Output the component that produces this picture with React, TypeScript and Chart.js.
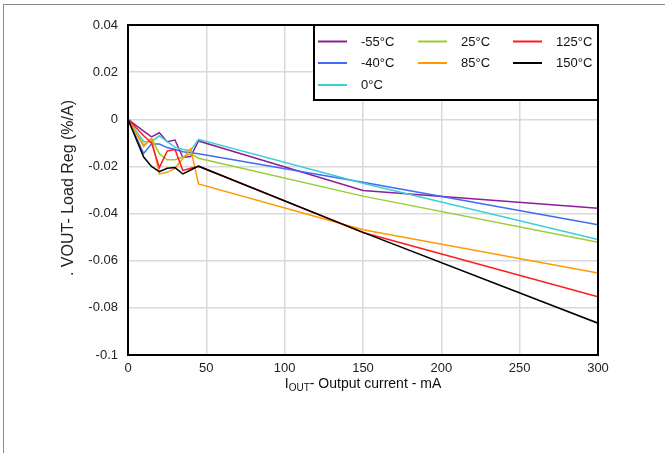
import React, { useEffect, useRef } from "react";
import { Chart, registerables } from "chart.js";

Chart.register(...registerables);

const currentMA = [0, 10, 15, 20, 25, 30, 35, 40, 45, 150, 300];
const regM55 = [0, -0.005, -0.0075, -0.0057, -0.0095, -0.0088, -0.0162, -0.0158, -0.0092, -0.0302, -0.0377];
const regM40 = [0, -0.0145, -0.0105, -0.0105, -0.012, -0.0128, -0.0138, -0.0142, -0.0146, -0.0267, -0.0448];
const reg0 = [0, -0.0095, -0.0095, -0.007, -0.0095, -0.0118, -0.0128, -0.0133, -0.0085, -0.0271, -0.051];
const reg25 = [0, -0.011, -0.008, -0.0146, -0.0172, -0.0172, -0.016, -0.0146, -0.0165, -0.0326, -0.0522];
const reg85 = [0, -0.0115, -0.008, -0.0232, -0.0225, -0.0208, -0.0167, -0.0125, -0.0274, -0.0469, -0.0652];
const reg125 = [0, -0.007, -0.01, -0.0205, -0.0135, -0.0128, -0.0217, -0.0208, -0.0199, -0.048, -0.0753];
const reg150 = [0, -0.016, -0.02, -0.0222, -0.0208, -0.0205, -0.0232, -0.0215, -0.0199, -0.048, -0.0865];

const xTicks = [0, 50, 100, 150, 200, 250, 300];
const yTicks = [-0.1, -0.08, -0.06, -0.04, -0.02, 0, 0.02, 0.04];
const yTickLabels = ["-0.1", "-0.08", "-0.06", "-0.04", "-0.02", "0", "0.02", "0.04"];

const seriesNames = ["-55°C", "-40°C", "0°C", "25°C", "85°C", "125°C", "150°C"];
const seriesData = [regM55, regM40, reg0, reg25, reg85, reg125, reg150];
const seriesColors = ["#8E1E96", "#3D6BF5", "#3CCFD3", "#9ACD32", "#FF9A00", "#FF1A1A", "#000000"];
// legend layout: row-major order of indices
const legendOrder = [0, 3, 5, 1, 4, 6, 2];

const FONT = "Arial, 'Liberation Sans', sans-serif";

export default function App() {
  const canvasRef = useRef<HTMLCanvasElement | null>(null);

  useEffect(() => {
    const canvas = canvasRef.current;
    if (!canvas) return;
    Chart.defaults.font.family = FONT;

    const overlay = {
      id: "overlay",
      afterDraw(chart: any) {
        const ctx = chart.ctx as CanvasRenderingContext2D;
        const { left, top, right, bottom } = chart.chartArea;
        ctx.save();
        // frame
        ctx.strokeStyle = "#000";
        ctx.lineWidth = 2;
        ctx.strokeRect(left, top, right - left, bottom - top);

        // legend
        const lx = 314;
        const lw = right - lx;
        const lh = 75;
        ctx.fillStyle = "#fff";
        ctx.fillRect(lx, top, lw, lh);
        ctx.strokeRect(lx, top, lw, lh);
        const colX = [lx + 4, lx + 104, lx + 199];
        const rowY = [top + 16.5, top + 38, top + 60];
        ctx.font = `13px ${FONT}`;
        ctx.textBaseline = "middle";
        ctx.textAlign = "left";
        legendOrder.forEach((si, k) => {
          const c = k % 3;
          const r = Math.floor(k / 3);
          const x = colX[c];
          const y = rowY[r];
          ctx.strokeStyle = seriesColors[si];
          ctx.lineWidth = 2;
          ctx.beginPath();
          ctx.moveTo(x, y);
          ctx.lineTo(x + 29, y);
          ctx.stroke();
          ctx.fillStyle = "#111";
          ctx.fillText(seriesNames[si], x + 43, y + 0.5);
        });

        // x title with subscript
        const cx = (left + right) / 2;
        const base = 388;
        const mainFont = `14px ${FONT}`;
        const subFont = `10px ${FONT}`;
        ctx.font = mainFont;
        const wI = ctx.measureText("I").width;
        const rest = "- Output current - mA";
        const wRest = ctx.measureText(rest).width;
        ctx.font = subFont;
        const wSub = ctx.measureText("OUT").width;
        const total = wI + wSub + wRest;
        let x0 = cx - total / 2;
        ctx.fillStyle = "#111";
        ctx.textBaseline = "alphabetic";
        ctx.font = mainFont;
        ctx.fillText("I", x0, base);
        x0 += wI;
        ctx.font = subFont;
        ctx.fillText("OUT", x0, base + 3);
        x0 += wSub;
        ctx.font = mainFont;
        ctx.fillText(rest, x0, base);

        // y title
        ctx.translate(69, 188);
        ctx.rotate(-Math.PI / 2);
        ctx.font = `16px ${FONT}`;
        ctx.textAlign = "center";
        ctx.textBaseline = "middle";
        ctx.fillStyle = "#222";
        ctx.fillText(". VOUT- Load Reg (%/A)", 0, 0);
        ctx.restore();
      },
    };

    const chart = new Chart(canvas, {
      type: "line",
      data: {
        datasets: seriesData.map((ys, i) => ({
          label: seriesNames[i],
          data: ys.map((y, j) => ({ x: currentMA[j], y })),
          borderColor: seriesColors[i],
          backgroundColor: seriesColors[i],
          borderWidth: 1.5,
          pointRadius: 0,
          tension: 0,
          fill: false,
          order: i === 6 ? -1 : 7 - i,
        })),
      },
      options: {
        responsive: false,
        animation: false,
        events: [],
        layout: { padding: { left: 0, right: 67, top: 25, bottom: 73 } },
        plugins: {
          legend: { display: false },
          tooltip: { enabled: false },
          title: { display: false },
        },
        scales: {
          x: {
            type: "linear",
            min: 0,
            max: 300,
            afterFit: (s: any) => {
              s.height = 25;
            },
            afterBuildTicks: (s: any) => {
              s.ticks = xTicks.map((v) => ({ value: v }));
            },
            ticks: {
              color: "#222",
              font: { size: 13, family: FONT },
              padding: 6,
              maxRotation: 0,
              callback: (v: any) => String(v),
            },
            grid: { color: "#d9d9d9", lineWidth: 1.5, drawTicks: false },
            border: { display: false },
          },
          y: {
            type: "linear",
            min: -0.1,
            max: 0.04,
            afterFit: (s: any) => {
              s.width = 128;
            },
            afterBuildTicks: (s: any) => {
              s.ticks = yTicks.map((v) => ({ value: v }));
            },
            ticks: {
              color: "#222",
              font: { size: 13, family: FONT },
              padding: 10,
              callback: (v: any) => {
                const idx = yTicks.findIndex((t) => Math.abs(t - v) < 1e-9);
                return idx >= 0 ? yTickLabels[idx] : "";
              },
            },
            grid: { color: "#d9d9d9", lineWidth: 1.5, drawTicks: false },
            border: { display: false },
          },
        },
      },
      plugins: [overlay],
    } as any);

    return () => chart.destroy();
  }, []);

  return (
    <div style={{ position: "relative", width: 665, height: 453, overflow: "hidden", background: "#fff" }}>
      <style>{`body{margin:0;}`}</style>
      <div
        style={{
          position: "absolute",
          left: 3,
          top: 4,
          width: 800,
          height: 800,
          borderTop: "1.5px solid #8a8a8a",
          borderLeft: "1.5px solid #8a8a8a",
        }}
      />
      <canvas ref={canvasRef} width={665} height={453} style={{ position: "absolute", left: 0, top: 0, width: 665, height: 453 }} />
    </div>
  );
}
